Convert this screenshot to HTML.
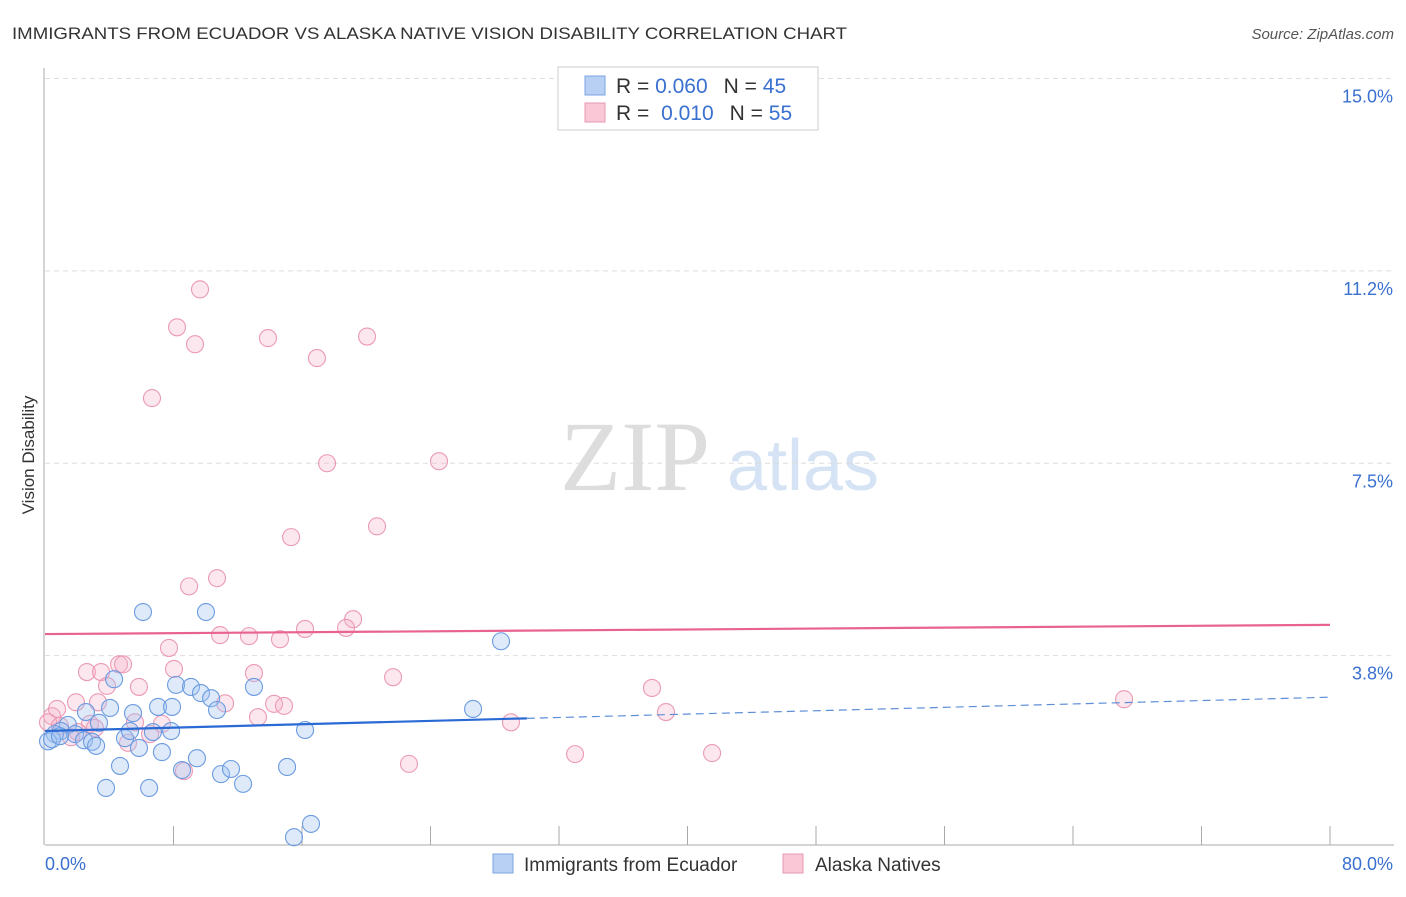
<!DOCTYPE html>
<html><head><meta charset="utf-8"><style>
body{margin:0;background:#fff;font-family:"Liberation Sans",sans-serif}
</style></head><body>
<svg id="c" width="1406" height="892" xmlns="http://www.w3.org/2000/svg" style="font-family:'Liberation Sans',sans-serif">
<text x="12" y="39" font-size="17" fill="#333" textLength="835" lengthAdjust="spacingAndGlyphs">IMMIGRANTS FROM ECUADOR VS ALASKA NATIVE VISION DISABILITY CORRELATION CHART</text>
<text x="1394" y="39" font-size="15" fill="#555" font-style="italic" text-anchor="end">Source: ZipAtlas.com</text>
<text x="34" y="455" font-size="17" fill="#333" text-anchor="middle" transform="rotate(-90 34 455)">Vision Disability</text>
<g><text x="635" y="490" font-size="100" font-family="'Liberation Serif',serif" fill="#ddd" text-anchor="middle">ZIP</text><text x="803" y="490" font-size="72" fill="#d5e3f5" text-anchor="middle">atlas</text></g>
<g id="grid"></g><g id="axes"></g><g id="pts"></g><g id="lines"></g>
<g>
<rect x="558" y="67" width="260" height="63" fill="#fff" stroke="#ccc"/>
<rect x="585" y="76" width="20" height="19" fill="#b8d0f4" stroke="#7aa4e0"/>
<rect x="585" y="103" width="20" height="19" fill="#f9c7d6" stroke="#e89ab2"/>
<text x="616" y="93" font-size="21" fill="#333">R = <tspan fill="#3a70d0">0.060</tspan><tspan dx="16">N = </tspan><tspan fill="#3a70d0">45</tspan></text>
<text x="616" y="120" font-size="21" fill="#333">R = <tspan dx="6" fill="#3a70d0">0.010</tspan><tspan dx="16">N = </tspan><tspan fill="#3a70d0">55</tspan></text>
</g>
<g>
<rect x="493" y="854" width="20" height="19" fill="#b8d0f4" stroke="#7aa4e0"/>
<text x="524" y="871" font-size="19" fill="#333">Immigrants from Ecuador</text>
<rect x="783" y="854" width="20" height="19" fill="#f9c7d6" stroke="#e89ab2"/>
<text x="815" y="871" font-size="19" fill="#333">Alaska Natives</text>
</g>
</svg>
<script>
const yTicks=[3.75,7.5,11.25,15];
const yTickLabels=["3.8%","7.5%","11.2%","15.0%"];
const xTicks=[0,8,16,24,32,40,48,56,64,72,80];
const blueX=[6.10,10.02,28.39,4.30,8.16,9.09,9.71,10.34,13.01,10.71,4.05,7.04,7.91,5.48,2.55,26.65,3.36,1.43,0.99,0.62,0.19,0.44,1.87,2.43,2.93,3.18,4.98,5.29,6.72,7.85,5.85,7.28,9.46,16.19,4.67,8.53,10.96,11.58,15.07,3.80,6.48,12.33,16.56,15.50,0.93];
const blueY=[4.60,4.60,4.03,3.29,3.18,3.14,3.02,2.92,3.14,2.69,2.73,2.75,2.75,2.63,2.65,2.71,2.44,2.40,2.28,2.22,2.08,2.12,2.22,2.10,2.07,1.99,2.14,2.28,2.26,2.28,1.95,1.87,1.75,2.30,1.60,1.52,1.44,1.54,1.58,1.17,1.17,1.25,0.47,0.21,2.18];
const pinkX=[9.65,8.22,9.34,13.88,20.05,16.93,6.66,17.56,24.53,20.67,15.32,8.97,10.71,19.18,18.74,16.19,10.90,12.70,14.63,7.72,2.61,3.49,4.61,4.86,8.03,13.01,21.67,5.85,3.86,3.30,1.93,11.21,14.26,14.88,13.26,5.60,7.28,2.80,0.44,0.75,0.19,2.05,1.62,5.17,8.65,22.66,29.01,33.00,37.79,38.66,41.53,67.18,0.93,6.54,3.11];
const pinkY=[10.89,10.15,9.82,9.94,9.97,9.55,8.77,7.50,7.54,6.27,6.06,5.10,5.26,4.46,4.29,4.27,4.15,4.13,4.07,3.90,3.43,3.43,3.58,3.58,3.49,3.41,3.33,3.14,3.16,2.84,2.84,2.82,2.81,2.77,2.55,2.45,2.42,2.42,2.57,2.71,2.45,2.26,2.16,2.05,1.50,1.64,2.45,1.83,3.12,2.65,1.85,2.90,2.38,2.22,2.34];
const blueTrend=[2.28,2.94]; const pinkTrend=[4.17,4.35];
const X=v=>45+v*1285/80, Y=v=>848-v*51.3, NS="http://www.w3.org/2000/svg";
function mk(p,t,a){const e=document.createElementNS(NS,t);for(const k in a)e.setAttribute(k,a[k]);p.appendChild(e);return e;}
const g=document.getElementById('grid'),ax=document.getElementById('axes'),pts=document.getElementById('pts'),ln=document.getElementById('lines');
yTicks.forEach((v,i)=>{const l=mk(g,'line',{x1:45,x2:1394,y1:Y(v),y2:Y(v),stroke:'#ddd','stroke-dasharray':'5,4'});


const t=mk(g,'text',{x:1393,y:Y(v)+24,'font-size':18,fill:'#3a70d0','text-anchor':'end'});t.textContent=yTickLabels[i];

});
const xa=mk(ax,'line',{x1:45,x2:1394,y1:845,y2:845,stroke:'#aaa'});


const ya=mk(ax,'line',{x1:44,x2:44,y1:68,y2:845,stroke:'#aaa'});


xTicks.forEach(v=>{if(v===0)return;const t=mk(ax,'line',{x1:X(v),x2:X(v),y1:826,y2:845,stroke:'#aaa'});

});
[[0,"0.0%",45,'start'],[80,"80.0%",1393,'end']].forEach(a=>{const t=mk(ax,'text',{x:a[2],y:870,'font-size':18,fill:'#3a70d0','text-anchor':a[3]});t.textContent=a[1];

});
function dots(xs,ys,f,s,n){xs.forEach((x,i)=>{const c=mk(pts,'circle',{cx:X(x),cy:Y(ys[i]),r:8.5,fill:f,stroke:s,'stroke-width':1.1});

});}
dots(pinkX,pinkY,'rgba(246,176,198,0.3)','#eb9ab4','alaska-point');
dots(blueX,blueY,'rgba(160,194,240,0.35)','#6b9be0','ecuador-point');
const bAt=v=>blueTrend[0]+(blueTrend[1]-blueTrend[0])*v/80;
const pl=mk(ln,'line',{x1:X(0),x2:X(80),y1:Y(pinkTrend[0]),y2:Y(pinkTrend[1]),stroke:'#e8638f','stroke-width':2.2});


const bl=mk(ln,'line',{x1:X(0),x2:X(30),y1:Y(bAt(0)),y2:Y(bAt(30)),stroke:'#2a6ad4','stroke-width':2.2});


const bd=mk(ln,'line',{x1:X(30),x2:X(80),y1:Y(bAt(30)),y2:Y(bAt(80)),stroke:'#5f8ed8','stroke-width':1.2,'stroke-dasharray':'8,5'});


</script>
</body></html>
